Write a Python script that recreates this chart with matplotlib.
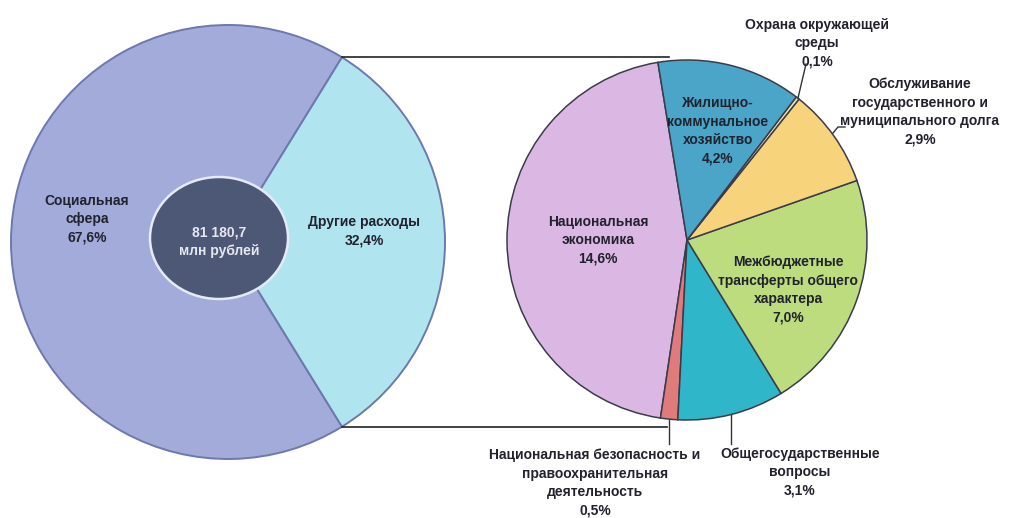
import matplotlib
matplotlib.use("Agg")
import matplotlib.pyplot as plt
from matplotlib.patches import Ellipse
import numpy as np

# ---------------- data ----------------
main_labels = ["Социальная\nсфера", "Другие расходы"]
main_values = [67.6, 32.4]
total_text = "81 180,7\nмлн рублей"

sub_labels = [
    "Национальная\nэкономика",
    "Национальная безопасность и\nправоохранительная\nдеятельность",
    "Общегосударственные\nвопросы",
    "Межбюджетные\nтрансферты общего\nхарактера",
    "Обслуживание\nгосударственного и\nмуниципального долга",
    "Охрана окружающей\nсреды",
    "Жилищно-\nкоммунальное\nхозяйство",
]
sub_values = [14.6, 0.5, 3.1, 7.0, 2.9, 0.1, 4.2]

def fmt(v):
    return f"{v:.1f}%".replace(".", ",")

# ---------------- style ----------------
W, H = 1011, 518
FONT = ["Liberation Sans", "DejaVu Sans"]
TXT = "#22222e"
main_colors = ["#a3abdb", "#b0e5ef"]
sub_colors = ["#dbb8e3", "#e07b7b", "#2fb6c9", "#bcdc7e", "#f7d37b", "#f2e6a8", "#4ba5c9"]

fig = plt.figure(figsize=(W / 100, H / 100), dpi=100)
ax = fig.add_axes([0, 0, 1, 1])

def Y(y):
    return H - y

# left pie
Lc = (228, Y(242)); Lr = 217
start_main = main_values[1] / sum(main_values) * 180
ax.pie(main_values, colors=main_colors, startangle=start_main, counterclock=True,
       center=Lc, radius=Lr, frame=True,
       wedgeprops=dict(edgecolor="#6d78ad", linewidth=1.4))

# center disc
ax.add_patch(Ellipse((219, Y(238)), 138, 122, facecolor="#4d5776",
                     edgecolor="#e4eaf6", linewidth=1.8, zorder=3))
ax.text(219, Y(242), total_text, ha="center", va="center", color="#e6e8f0",
        fontsize=10, fontweight="bold", family=FONT, linespacing=1.45, zorder=4)

# right pie
Rc = (687, Y(240)); Rr = 180
ax.pie(sub_values, colors=sub_colors, startangle=99.3, counterclock=True,
       center=Rc, radius=Rr, frame=True,
       wedgeprops=dict(edgecolor="#3b3b4c", linewidth=1.1))

# connector lines from left wedge ends to right pie
ang = np.deg2rad(start_main)
x0 = Lc[0] + Lr * np.cos(ang)
ax.plot([x0, 669], [Lc[1] + Lr * np.sin(ang)] * 2, color="#222222", lw=1.2, zorder=1)
ax.plot([x0, 667], [Lc[1] - Lr * np.sin(ang)] * 2, color="#222222", lw=1.2, zorder=1)

# labels main
ax.text(87, Y(219), f"{main_labels[0]}\n{fmt(main_values[0])}", ha="center", va="center",
        color=TXT, fontsize=10, fontweight="bold", family=FONT, linespacing=1.4)
ax.text(364, Y(231), f"{main_labels[1]}\n{fmt(main_values[1])}", ha="center", va="center",
        color=TXT, fontsize=10, fontweight="bold", family=FONT, linespacing=1.4)

# labels sub
sub_pos = [(598, 240), (595, 483), (800, 472), (788, 290), (920, 112), (817, 43), (718, 131)]
for lab, v, (x, y) in zip(sub_labels, sub_values, sub_pos):
    ax.text(x, Y(y), f"{lab}\n{fmt(v)}", ha="center", va="center", color=TXT,
            fontsize=10, fontweight="bold", family=FONT, linespacing=1.4)

# leader lines
lc = "#333333"
ax.plot([798, 806], [Y(98), Y(64)], color=lc, lw=1.0)
ax.plot([833, 838, 845], [Y(133), Y(127), Y(127)], color=lc, lw=1.0)
ax.plot([669, 669], [Y(420), Y(444)], color=lc, lw=1.0)
ax.plot([731, 731], [Y(415), Y(444)], color=lc, lw=1.0)

ax.set_xlim(0, W)
ax.set_ylim(0, H)
ax.set_aspect("auto")
ax.axis("off")
fig.savefig("out.png", dpi=100, facecolor="white")
